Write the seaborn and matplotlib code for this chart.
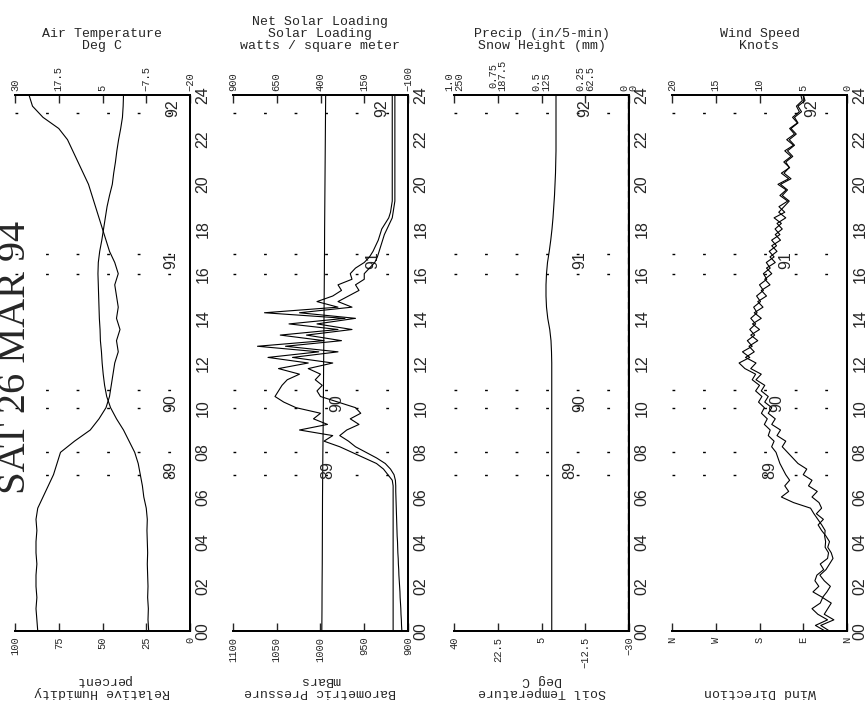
import numpy as np
import matplotlib
matplotlib.use("Agg")
import matplotlib.pyplot as plt
import matplotlib.transforms as mtransforms
import seaborn as sns

sns.set_style("ticks")
plt.rcParams["font.family"] = ["Liberation Mono", "DejaVu Sans Mono"]
plt.rcParams["axes.unicode_minus"] = True

# ---- time grids (hours) ----
t_hour = np.arange(0, 25, 1)
t_half = np.arange(0, 24.01, 0.5)
t_qtr = np.arange(0, 24.01, 0.25)

# ---- panel 1: relative humidity (%) / air temperature (C), half-hourly ----
rel_humidity = [87, 87.5, 88, 87.5, 88, 88, 87.5, 88, 88, 87.5, 88, 87,
                84, 81, 78, 76, 74, 66, 57, 52, 48, 46, 45, 44,
                43, 41, 42, 40, 42, 41, 42, 43, 41, 43, 46, 48,
                50, 52, 54, 56, 58, 61, 64, 67, 70, 75, 84, 90, 92]
air_temp = [-8.2, -8.0, -8.1, -7.9, -8.0, -7.9, -7.8, -7.9, -7.8, -7.7, -7.8, -7.5,
            -6.8, -6.4, -5.8, -5.2, -4.2, -2.6, -1.0, 1.0, 2.7, 3.8, 4.4, 4.8,
            5.1, 5.3, 5.6, 5.7, 5.9, 6.0, 6.1, 6.2, 6.3, 6.2, 5.8, 5.2,
            4.7, 4.2, 3.7, 3.0, 2.2, 1.8, 1.3, 0.9, 0.4, -0.2, -0.7, -0.9, -1.0]

# ---- panel 2: pressure (mbar, hourly) / solar loading (W/m2, quarter-hourly) ----
pressure = [998.5, 998.3, 998.2, 998.0, 997.9, 997.8, 997.7, 997.5, 997.3, 997.0,
            996.8, 996.6, 996.4, 996.2, 996.0, 995.8, 995.6, 995.4, 995.3, 995.1,
            994.9, 994.7, 994.5, 994.3, 994.1]
solar = ([-15] * 27 +
         [-10, 15, 40, 80, 150, 220, 290, 380, 330, 520, 360, 440, 400, 540, 610,
          660, 640, 620, 590, 520, 640, 470, 700, 410, 760, 380, 630, 300, 580, 260,
          720, 300, 420, 330, 280, 300, 220, 230, 200, 150, 120, 100, 85, 70, 60,
          50, 30, 10, 0, -5] +
         [-10] * 20)
net_solar = ([-65, -63, -62, -60, -59, -57, -55, -54, -52, -50, -48, -47, -45, -44,
              -42, -41, -40, -38, -37, -36, -35, -34, -33, -32, -31, -30, -30] +
             [-28, -20, 0, 30, 80, 140, 200, 240, 290, 250, 180, 230, 170, 200, 300,
              400, 420, 390, 430, 400, 470, 330, 560, 300, 600, 280, 480, 220, 420, 200,
              520, 220, 300, 240, 180, 200, 150, 150, 120, 90, 75, 65, 55, 45, 35,
              20, 5, -10, -15, -20] +
             [-25] * 20)

# ---- panel 3: soil temperature (C, half-hourly) / precip & snow (hourly) ----
soil_temp = [0.9] * 24 + [0.9, 1.0, 1.2, 1.7, 2.5, 3.0, 3.2, 3.2, 3.0, 2.6, 1.9, 1.3,
                          0.8, 0.4, 0.1, -0.2, -0.4, -0.6, -0.7, -0.8, -0.8, -0.8, -0.8, -0.8, -0.8]
precip = [0.0] * 25
snow_height = [0.0] * 25

# ---- panel 4: wind direction (deg) / wind speed (knots), quarter-hourly ----
wind_dir = [45, 65, 40, 60, 72, 55, 50, 70, 58, 66, 62, 48, 55, 40, 38, 45,
            44, 46, 45, 52, 60, 68, 75, 110, 135, 120, 128, 118, 126, 132, 138, 142,
            146, 155, 150, 162, 158, 170, 164, 176, 170, 182, 175, 188, 180, 195, 188, 210,
            222, 200, 215, 195, 205, 190, 200, 188, 198, 185, 192, 178, 186, 172, 180, 165,
            172, 158, 166, 150, 160, 145, 155, 138, 148, 135, 150, 128, 140, 122, 138, 125,
            142, 120, 135, 118, 130, 115, 128, 110, 124, 108, 118, 102, 112, 98, 104, 92, 95]
wind_speed = [2.0, 3.0, 1.5, 2.6, 2.2, 1.8, 2.8, 2.3, 1.9, 2.6, 3.1, 2.4, 2.0, 1.6, 1.8, 2.2,
              2.0, 2.4, 2.9, 3.3, 2.7, 3.5, 2.9, 3.2, 4.0, 3.4, 4.4, 4.0, 5.0, 4.6, 5.6, 6.2,
              6.8, 7.4, 7.0, 8.0, 7.6, 8.6, 8.2, 9.0, 8.6, 9.4, 9.0, 9.8, 9.4, 10.4, 9.8, 11.0,
              10.4, 11.6, 10.6, 11.2, 10.2, 11.0, 10.0, 10.8, 9.8, 10.6, 9.6, 10.2, 9.2, 9.8, 8.8, 9.4,
              8.6, 9.2, 8.2, 8.8, 8.0, 8.6, 7.6, 8.2, 7.4, 8.0, 7.0, 7.8, 7.2, 6.6, 7.4, 6.8,
              7.6, 6.4, 7.2, 6.6, 7.0, 6.2, 6.8, 6.0, 6.6, 5.8, 6.4, 5.6, 6.0, 5.2, 5.6, 4.8, 5.0]

# ---- events (data file markers) ----
event_names = ["89", "90", "91", "92"]
event_label_time = [7.2, 10.2, 16.6, 23.4]
event_line_time = [7.0, 8.0, 10.0, 10.8, 16.0, 16.9, 23.2]

time_ticks = list(range(0, 25, 2))
time_labels = ["%02d" % h for h in time_ticks]

fig = plt.figure(figsize=(8.67, 7.04), dpi=100)
W, H = 867, 704
lefts = [15, 233, 454, 672]
ax_b = (H - 631) / H
ax_h = 536 / H
ax_w = 175 / W

tick_font = dict(fontsize=7.5, family=["Liberation Mono", "DejaVu Sans Mono"])
title_font = dict(fontsize=9.5, family=["Liberation Mono", "DejaVu Sans Mono"], linespacing=1.0)
big_font = dict(fontsize=11.5, family=["Liberation Sans", "DejaVu Sans"])


def line(ax, x, y, lw=0.8, ls="-"):
    sns.lineplot(x=x, y=y, ax=ax, orient="y", sort=False, estimator=None,
                 color="black", linewidth=lw, linestyle=ls)


def style_panel(ax, top, bot_lim, bot_ticks, bot_labels, top_lim, top_ticks, top_labels,
                bot_title, top_title, ev_x):
    ax.set_ylim(0, 24)
    ax.set_yticks(time_ticks)
    ax.set_yticklabels(time_labels, rotation=90, va="center", **big_font)
    ax.yaxis.tick_right()
    ax.tick_params(axis="y", length=0, pad=4)
    ax.set_xlim(*bot_lim)
    ax.set_xticks(bot_ticks)
    ax.set_xticklabels(bot_labels, rotation=90, **tick_font)
    ax.tick_params(axis="x", direction="in", length=6, width=1, pad=4, top=False)
    top.set_xlim(*top_lim)
    top.set_xticks(top_ticks)
    top.set_xticklabels(top_labels, rotation=90, linespacing=0.95, **tick_font)
    top.tick_params(axis="x", direction="in", length=6, width=1, pad=3)
    ax.set_xlabel("")
    ax.set_ylabel("")
    top.set_xlabel("")
    for a in (ax, top):
        for s in a.spines.values():
            s.set_linewidth(1.3)
            s.set_color("black")
        a.spines["left"].set_visible(False)
    for t in event_line_time:
        ax.axhline(t, color="black", lw=1.0, ls=(0, (2, 20)))
    tr = mtransforms.blended_transform_factory(ax.transAxes, ax.transData)
    for name, t, xf in zip(event_names, event_label_time, ev_x):
        ax.text(xf, t, name, transform=tr, rotation=90, ha="center", va="center", **big_font)
    ax.text(0.5, 1.08, top_title, transform=ax.transAxes, ha="center", va="bottom",
            multialignment="center", **title_font)
    ax.text(0.5, -0.125, bot_title, transform=ax.transAxes, rotation=180, ha="center",
            va="bottom", multialignment="center", **title_font)


# panel 1
ax1 = fig.add_axes([lefts[0] / W, ax_b, ax_w, ax_h])
top1 = ax1.twiny()
line(ax1, rel_humidity, t_half)
line(top1, air_temp, t_half)
style_panel(ax1, top1, (100, 0), [100, 75, 50, 25, 0], ["100", "75", "50", "25", "0"],
            (30, -20), [30, 17.5, 5, -7.5, -20], ["30", "17.5", "5", "\u22127.5", "\u221220"],
            "Relative Humidity\npercent", "Air Temperature\nDeg C", [0.89, 0.89, 0.89, 0.9])

# panel 2
ax2 = fig.add_axes([lefts[1] / W, ax_b, ax_w, ax_h])
top2 = ax2.twiny()
line(ax2, pressure, t_hour)
line(top2, solar, t_qtr)
line(top2, net_solar, t_qtr)
style_panel(ax2, top2, (1100, 900), [1100, 1050, 1000, 950, 900],
            ["1100", "1050", "1000", "950", "900"],
            (900, -100), [900, 650, 400, 150, -100], ["900", "650", "400", "150", "\u2212100"],
            "Barometric Pressure\nmBars", "Net Solar Loading\nSolar Loading\nwatts / square meter",
            [0.54, 0.59, 0.80, 0.85])

# panel 3
ax3 = fig.add_axes([lefts[2] / W, ax_b, ax_w, ax_h])
top3 = ax3.twiny()
snow_ax = ax3.twiny()
line(ax3, soil_temp, t_half)
line(top3, precip, t_hour, lw=1.6)
line(snow_ax, snow_height, t_hour, lw=1.6, ls=(0, (3, 2)))
snow_ax.set_xlim(250, 0)
snow_ax.set_xticks([])
snow_ax.set_xlabel("")
for s in snow_ax.spines.values():
    s.set_visible(False)
style_panel(ax3, top3, (40, -30), [40, 22.5, 5, -12.5, -30],
            ["40", "22.5", "5", "\u221212.5", "\u221230"],
            (1.0, 0.0), [1.0, 0.75, 0.5, 0.25, 0.0],
            ["1.0\n250", "0.75\n187.5", "0.5\n125", "0.25\n62.5", "0\n0"],
            "Soil Temperature\nDeg C", "Precip (in/5-min)\nSnow Height (mm)",
            [0.66, 0.72, 0.72, 0.75])

# panel 4
ax4 = fig.add_axes([lefts[3] / W, ax_b, ax_w, ax_h])
top4 = ax4.twiny()
line(ax4, wind_dir, t_qtr)
line(top4, wind_speed, t_qtr)
style_panel(ax4, top4, (360, 0), [360, 270, 180, 90, 0], ["N", "W", "S", "E", "N"],
            (20, 0), [20, 15, 10, 5, 0], ["20", "15", "10", "5", "0"],
            "Wind Direction", "Wind Speed\nKnots", [0.56, 0.60, 0.65, 0.80])

fig.text(16 / W, 1 - 357 / H, "SAT 26 MAR 94", rotation=90, ha="center", va="center",
         fontsize=29, family=["Liberation Serif", "DejaVu Serif"])

fig.savefig("out.png", dpi=100, facecolor="white")
